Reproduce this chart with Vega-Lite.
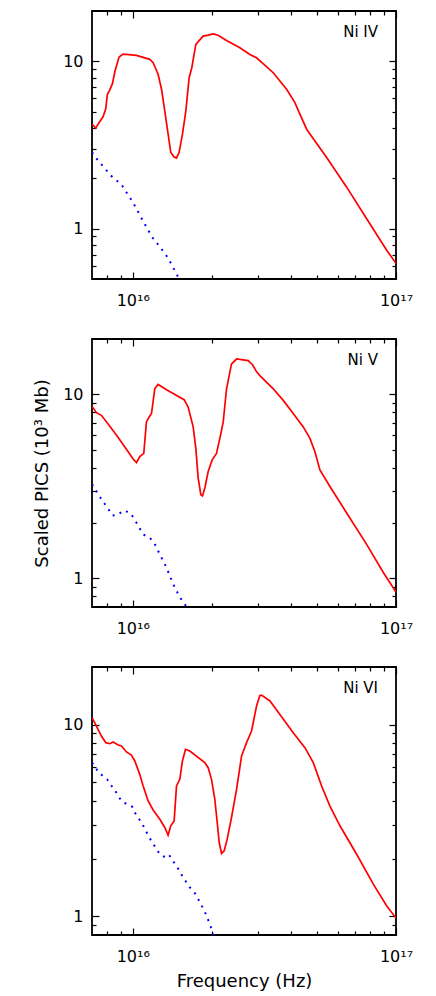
{
  "$schema": "https://vega.github.io/schema/vega-lite/v6.json",
  "background": "white",
  "padding": {"left": 32, "top": 9, "right": 5, "bottom": 5},
  "bounds": "flush",
  "spacing": 60,
  "config": {
    "view": {"stroke": "black", "strokeWidth": 1.8},
    "axis": {"grid": false, "domain": false, "tickColor": "black", "tickWidth": 1.2, "labelColor": "black", "labelFont": "DejaVu Sans", "labelFontSize": 16, "labelFlush": false, "titleFont": "DejaVu Sans", "titleFontSize": 18, "titleFontWeight": "normal", "titleColor": "black"},
    "title": {"font": "DejaVu Sans", "fontSize": 15, "fontWeight": "normal", "color": "black", "anchor": "end", "frame": "group", "offset": -30, "dx": -18}
  },
  "datasets": {
    "iv_solid": [
      {"f": 7.0e15, "v": 4.22}, {"f": 7.23e15, "v": 3.99}, {"f": 7.45e15, "v": 4.31}, {"f": 7.71e15, "v": 4.66}, {"f": 7.89e15, "v": 5.18}, {"f": 8.01e15, "v": 6.36}, {"f": 8.18e15, "v": 6.75}, {"f": 8.37e15, "v": 7.36}, {"f": 8.56e15, "v": 8.76}, {"f": 8.87e15, "v": 10.6}, {"f": 9.19e15, "v": 11.05}, {"f": 1.033e16, "v": 10.85}, {"f": 1.16e16, "v": 10.28}, {"f": 1.195e16, "v": 9.81}, {"f": 1.248e16, "v": 8.37}, {"f": 1.286e16, "v": 6.81}, {"f": 1.323e16, "v": 5.06}, {"f": 1.362e16, "v": 3.68}, {"f": 1.394e16, "v": 2.86}, {"f": 1.432e16, "v": 2.69}, {"f": 1.466e16, "v": 2.64}, {"f": 1.5e16, "v": 2.86}, {"f": 1.545e16, "v": 3.68}, {"f": 1.591e16, "v": 5.06}, {"f": 1.637e16, "v": 7.99}, {"f": 1.676e16, "v": 9.16}, {"f": 1.736e16, "v": 12.62}, {"f": 1.851e16, "v": 14.15}, {"f": 1.933e16, "v": 14.34}, {"f": 2.02e16, "v": 14.6}, {"f": 2.11e16, "v": 14.34}, {"f": 2.271e16, "v": 13.34}, {"f": 2.552e16, "v": 12.05}, {"f": 2.786e16, "v": 11.0}, {"f": 2.953e16, "v": 10.5}, {"f": 3.416e16, "v": 8.55}, {"f": 3.841e16, "v": 6.81}, {"f": 4.13e16, "v": 5.67}, {"f": 4.315e16, "v": 4.84}, {"f": 4.576e16, "v": 3.93}, {"f": 5.452e16, "v": 2.66}, {"f": 6.495e16, "v": 1.77}, {"f": 7.737e16, "v": 1.147}, {"f": 9.218e16, "v": 0.743}, {"f": 1.0e17, "v": 0.62}
    ],
    "iv_dotted": [
      {"f": 7.0e15, "v": 2.86}, {"f": 7.38e15, "v": 2.55}, {"f": 7.71e15, "v": 2.36}, {"f": 8.3e15, "v": 2.06}, {"f": 9.06e15, "v": 1.835}, {"f": 9.32e15, "v": 1.707}, {"f": 9.97e15, "v": 1.453}, {"f": 1.054e16, "v": 1.239}, {"f": 1.117e16, "v": 1.047}, {"f": 1.184e16, "v": 0.891}, {"f": 1.274e16, "v": 0.77}, {"f": 1.362e16, "v": 0.668}, {"f": 1.479e16, "v": 0.522}, {"f": 1.5e16, "v": 0.5}
    ],
    "v_solid": [
      {"f": 7.0e15, "v": 8.61}, {"f": 7.28e15, "v": 7.96}, {"f": 7.6e15, "v": 7.7}, {"f": 8.18e15, "v": 6.72}, {"f": 8.8e15, "v": 5.84}, {"f": 9.46e15, "v": 5.03}, {"f": 1.003e16, "v": 4.46}, {"f": 1.033e16, "v": 4.26}, {"f": 1.063e16, "v": 4.59}, {"f": 1.101e16, "v": 4.78}, {"f": 1.127e16, "v": 7.09}, {"f": 1.154e16, "v": 7.54}, {"f": 1.178e16, "v": 7.87}, {"f": 1.212e16, "v": 10.73}, {"f": 1.248e16, "v": 11.32}, {"f": 1.343e16, "v": 10.6}, {"f": 1.567e16, "v": 9.36}, {"f": 1.623e16, "v": 8.54}, {"f": 1.696e16, "v": 6.66}, {"f": 1.736e16, "v": 5.09}, {"f": 1.772e16, "v": 3.51}, {"f": 1.814e16, "v": 2.85}, {"f": 1.84e16, "v": 2.81}, {"f": 1.878e16, "v": 3.1}, {"f": 1.934e16, "v": 3.81}, {"f": 2.003e16, "v": 4.41}, {"f": 2.08e16, "v": 4.78}, {"f": 2.142e16, "v": 5.77}, {"f": 2.206e16, "v": 7.09}, {"f": 2.271e16, "v": 10.73}, {"f": 2.372e16, "v": 14.64}, {"f": 2.479e16, "v": 15.57}, {"f": 2.745e16, "v": 15.25}, {"f": 2.85e16, "v": 14.5}, {"f": 2.95e16, "v": 13.3}, {"f": 3.04e16, "v": 12.66}, {"f": 3.417e16, "v": 10.73}, {"f": 3.729e16, "v": 9.28}, {"f": 4.07e16, "v": 7.87}, {"f": 4.443e16, "v": 6.66}, {"f": 4.71e16, "v": 5.77}, {"f": 4.92e16, "v": 4.88}, {"f": 5.14e16, "v": 3.89}, {"f": 5.61e16, "v": 3.16}, {"f": 6.494e16, "v": 2.27}, {"f": 7.735e16, "v": 1.532}, {"f": 8.95e16, "v": 1.077}, {"f": 1.0e17, "v": 0.845}
    ],
    "v_dotted": [
      {"f": 7.0e15, "v": 3.25}, {"f": 7.28e15, "v": 2.97}, {"f": 7.6e15, "v": 2.7}, {"f": 8.06e15, "v": 2.39}, {"f": 8.37e15, "v": 2.2}, {"f": 8.8e15, "v": 2.22}, {"f": 9.19e15, "v": 2.34}, {"f": 9.68e15, "v": 2.29}, {"f": 9.97e15, "v": 2.18}, {"f": 1.033e16, "v": 2.01}, {"f": 1.095e16, "v": 1.735}, {"f": 1.16e16, "v": 1.665}, {"f": 1.205e16, "v": 1.563}, {"f": 1.267e16, "v": 1.353}, {"f": 1.343e16, "v": 1.147}, {"f": 1.424e16, "v": 0.932}, {"f": 1.509e16, "v": 0.79}, {"f": 1.576e16, "v": 0.727}, {"f": 1.6e16, "v": 0.7}
    ],
    "vi_solid": [
      {"f": 7.0e15, "v": 10.88}, {"f": 7.28e15, "v": 9.84}, {"f": 7.6e15, "v": 8.73}, {"f": 7.9e15, "v": 8.06}, {"f": 8.18e15, "v": 7.96}, {"f": 8.42e15, "v": 8.12}, {"f": 8.8e15, "v": 7.84}, {"f": 9.06e15, "v": 7.74}, {"f": 9.46e15, "v": 7.21}, {"f": 9.88e15, "v": 6.95}, {"f": 1.018e16, "v": 6.47}, {"f": 1.063e16, "v": 5.51}, {"f": 1.095e16, "v": 4.79}, {"f": 1.144e16, "v": 4.0}, {"f": 1.195e16, "v": 3.59}, {"f": 1.267e16, "v": 3.21}, {"f": 1.323e16, "v": 2.91}, {"f": 1.362e16, "v": 2.65}, {"f": 1.394e16, "v": 2.97}, {"f": 1.436e16, "v": 3.15}, {"f": 1.466e16, "v": 4.79}, {"f": 1.509e16, "v": 5.19}, {"f": 1.544e16, "v": 6.47}, {"f": 1.586e16, "v": 7.44}, {"f": 1.647e16, "v": 7.29}, {"f": 1.878e16, "v": 6.34}, {"f": 1.934e16, "v": 5.97}, {"f": 1.991e16, "v": 5.19}, {"f": 2.05e16, "v": 4.08}, {"f": 2.093e16, "v": 3.09}, {"f": 2.13e16, "v": 2.43}, {"f": 2.174e16, "v": 2.13}, {"f": 2.225e16, "v": 2.2}, {"f": 2.284e16, "v": 2.53}, {"f": 2.372e16, "v": 3.28}, {"f": 2.479e16, "v": 4.6}, {"f": 2.59e16, "v": 6.87}, {"f": 2.706e16, "v": 8.06}, {"f": 2.826e16, "v": 9.27}, {"f": 2.953e16, "v": 12.51}, {"f": 3.04e16, "v": 14.21}, {"f": 3.085e16, "v": 14.27}, {"f": 3.32e16, "v": 13.3}, {"f": 3.623e16, "v": 11.32}, {"f": 4.07e16, "v": 9.08}, {"f": 4.508e16, "v": 7.59}, {"f": 4.85e16, "v": 6.34}, {"f": 5.217e16, "v": 4.79}, {"f": 5.61e16, "v": 3.76}, {"f": 6.125e16, "v": 2.97}, {"f": 7.087e16, "v": 2.11}, {"f": 8.2e16, "v": 1.474}, {"f": 9.21e16, "v": 1.137}, {"f": 1.0e17, "v": 0.98}
    ],
    "vi_dotted": [
      {"f": 7.0e15, "v": 6.34}, {"f": 7.17e15, "v": 6.09}, {"f": 7.38e15, "v": 5.67}, {"f": 7.65e15, "v": 5.45}, {"f": 7.99e15, "v": 5.19}, {"f": 8.22e15, "v": 4.89}, {"f": 8.54e15, "v": 4.57}, {"f": 8.8e15, "v": 4.25}, {"f": 9.11e15, "v": 3.96}, {"f": 9.52e15, "v": 3.85}, {"f": 9.94e15, "v": 3.74}, {"f": 1.018e16, "v": 3.48}, {"f": 1.054e16, "v": 3.24}, {"f": 1.088e16, "v": 3.03}, {"f": 1.15e16, "v": 2.61}, {"f": 1.219e16, "v": 2.29}, {"f": 1.267e16, "v": 2.11}, {"f": 1.312e16, "v": 2.05}, {"f": 1.37e16, "v": 2.11}, {"f": 1.411e16, "v": 1.973}, {"f": 1.466e16, "v": 1.836}, {"f": 1.554e16, "v": 1.596}, {"f": 1.647e16, "v": 1.416}, {"f": 1.721e16, "v": 1.323}, {"f": 1.787e16, "v": 1.207}, {"f": 1.878e16, "v": 1.058}, {"f": 1.963e16, "v": 0.912}, {"f": 2.003e16, "v": 0.836}, {"f": 2.02e16, "v": 0.8}
    ]
  },
  "vconcat": [
    {
      "width": 304, "height": 268,
      "title": {"text": "Ni  IV"},
      "resolve": {"axis": {"x": "independent", "y": "independent"}},
      "layer": [
        {"data": {"name": "iv_dotted"}, "mark": {"type": "line", "color": "#0000ff", "strokeWidth": 2, "strokeDash": [2, 5.5], "clip": true},
         "encoding": {
           "x": {"field": "f", "type": "quantitative", "scale": {"type": "log", "domain": [7e15, 1e17], "nice": false}, "axis": {"orient": "bottom", "values": [8e15, 9e15, 2e16, 3e16, 4e16, 5e16, 6e16, 7e16, 8e16, 9e16], "offset": -4, "tickSize": 4, "labels": false, "title": null}},
           "y": {"field": "v", "type": "quantitative", "scale": {"type": "log", "domain": [0.5, 20], "nice": false}, "axis": {"orient": "left", "values": [0.6, 0.7, 0.8, 0.9, 2, 3, 4, 5, 6, 7, 8, 9], "offset": -4, "tickSize": 4, "labels": false, "title": null}}
         }},
        {"data": {"name": "iv_solid"}, "mark": {"type": "line", "color": "#ff0000", "strokeWidth": 1.7, "clip": true},
         "encoding": {
           "x": {"field": "f", "type": "quantitative", "scale": {"type": "log", "domain": [7e15, 1e17], "nice": false}, "axis": {"orient": "bottom", "values": [1e16, 1e17], "ticks": false, "tickSize": 0, "labelExpr": "datum.value < 5e16 ? '10¹⁶' : '10¹⁷'", "labelBaseline": "alphabetic", "labelPadding": 26, "title": null}},
           "y": {"field": "v", "type": "quantitative", "scale": {"type": "log", "domain": [0.5, 20], "nice": false}, "axis": {"orient": "left", "values": [1, 10], "ticks": false, "tickSize": 0, "labelExpr": "datum.value > 5 ? '10' : '1'", "labelPadding": 9, "title": null}}
         }},
        {"data": {"name": "iv_solid"}, "mark": {"type": "line", "opacity": 0, "clip": true},
         "encoding": {
           "x": {"field": "f", "type": "quantitative", "scale": {"type": "log", "domain": [7e15, 1e17], "nice": false}, "axis": {"orient": "bottom", "values": [1e16, 1e17], "offset": -7, "tickSize": 7, "labels": false, "title": null}},
           "y": {"field": "v", "type": "quantitative", "scale": {"type": "log", "domain": [0.5, 20], "nice": false}, "axis": {"orient": "left", "values": [1, 10], "offset": -7, "tickSize": 7, "labels": false, "title": null}}
         }},
        {"data": {"name": "iv_solid"}, "mark": {"type": "line", "opacity": 0, "clip": true},
         "encoding": {
           "x": {"field": "f", "type": "quantitative", "scale": {"type": "log", "domain": [7e15, 1e17], "nice": false}, "axis": {"orient": "top", "values": [1e16, 1e17], "offset": -7, "tickSize": 7, "labels": false, "title": null}},
           "y": {"field": "v", "type": "quantitative", "scale": {"type": "log", "domain": [0.5, 20], "nice": false}, "axis": {"orient": "right", "values": [1, 10], "offset": -7, "tickSize": 7, "labels": false, "title": null}}
         }},
        {"data": {"name": "iv_solid"}, "mark": {"type": "line", "opacity": 0, "clip": true},
         "encoding": {
           "x": {"field": "f", "type": "quantitative", "scale": {"type": "log", "domain": [7e15, 1e17], "nice": false}, "axis": {"orient": "top", "values": [8e15, 9e15, 2e16, 3e16, 4e16, 5e16, 6e16, 7e16, 8e16, 9e16], "offset": -4, "tickSize": 4, "labels": false, "title": null}},
           "y": {"field": "v", "type": "quantitative", "scale": {"type": "log", "domain": [0.5, 20], "nice": false}, "axis": {"orient": "right", "values": [0.6, 0.7, 0.8, 0.9, 2, 3, 4, 5, 6, 7, 8, 9], "offset": -4, "tickSize": 4, "labels": false, "title": null}}
         }}
      ]
    },
    {
      "width": 304, "height": 268,
      "title": {"text": "Ni  V"},
      "resolve": {"axis": {"x": "independent", "y": "independent"}},
      "layer": [
        {"data": {"name": "v_dotted"}, "mark": {"type": "line", "color": "#0000ff", "strokeWidth": 2, "strokeDash": [2, 5.5], "clip": true},
         "encoding": {
           "x": {"field": "f", "type": "quantitative", "scale": {"type": "log", "domain": [7e15, 1e17], "nice": false}, "axis": {"orient": "bottom", "values": [8e15, 9e15, 2e16, 3e16, 4e16, 5e16, 6e16, 7e16, 8e16, 9e16], "offset": -4, "tickSize": 4, "labels": false, "title": null}},
           "y": {"field": "v", "type": "quantitative", "scale": {"type": "log", "domain": [0.7, 20], "nice": false}, "axis": {"orient": "left", "values": [0.8, 0.9, 2, 3, 4, 5, 6, 7, 8, 9], "offset": -4, "tickSize": 4, "labels": false, "title": null}}
         }},
        {"data": {"name": "v_solid"}, "mark": {"type": "line", "color": "#ff0000", "strokeWidth": 1.7, "clip": true},
         "encoding": {
           "x": {"field": "f", "type": "quantitative", "scale": {"type": "log", "domain": [7e15, 1e17], "nice": false}, "axis": {"orient": "bottom", "values": [1e16, 1e17], "ticks": false, "tickSize": 0, "labelExpr": "datum.value < 5e16 ? '10¹⁶' : '10¹⁷'", "labelBaseline": "alphabetic", "labelPadding": 26, "title": null}},
           "y": {"field": "v", "type": "quantitative", "scale": {"type": "log", "domain": [0.7, 20], "nice": false}, "axis": {"orient": "left", "values": [1, 10], "ticks": false, "tickSize": 0, "labelExpr": "datum.value > 5 ? '10' : '1'", "labelPadding": 9, "title": "Scaled PICS (10³ Mb)", "titlePadding": 11}}
         }},
        {"data": {"name": "v_solid"}, "mark": {"type": "line", "opacity": 0, "clip": true},
         "encoding": {
           "x": {"field": "f", "type": "quantitative", "scale": {"type": "log", "domain": [7e15, 1e17], "nice": false}, "axis": {"orient": "bottom", "values": [1e16, 1e17], "offset": -7, "tickSize": 7, "labels": false, "title": null}},
           "y": {"field": "v", "type": "quantitative", "scale": {"type": "log", "domain": [0.7, 20], "nice": false}, "axis": {"orient": "left", "values": [1, 10], "offset": -7, "tickSize": 7, "labels": false, "title": null}}
         }},
        {"data": {"name": "v_solid"}, "mark": {"type": "line", "opacity": 0, "clip": true},
         "encoding": {
           "x": {"field": "f", "type": "quantitative", "scale": {"type": "log", "domain": [7e15, 1e17], "nice": false}, "axis": {"orient": "top", "values": [1e16, 1e17], "offset": -7, "tickSize": 7, "labels": false, "title": null}},
           "y": {"field": "v", "type": "quantitative", "scale": {"type": "log", "domain": [0.7, 20], "nice": false}, "axis": {"orient": "right", "values": [1, 10], "offset": -7, "tickSize": 7, "labels": false, "title": null}}
         }},
        {"data": {"name": "v_solid"}, "mark": {"type": "line", "opacity": 0, "clip": true},
         "encoding": {
           "x": {"field": "f", "type": "quantitative", "scale": {"type": "log", "domain": [7e15, 1e17], "nice": false}, "axis": {"orient": "top", "values": [8e15, 9e15, 2e16, 3e16, 4e16, 5e16, 6e16, 7e16, 8e16, 9e16], "offset": -4, "tickSize": 4, "labels": false, "title": null}},
           "y": {"field": "v", "type": "quantitative", "scale": {"type": "log", "domain": [0.7, 20], "nice": false}, "axis": {"orient": "right", "values": [0.8, 0.9, 2, 3, 4, 5, 6, 7, 8, 9], "offset": -4, "tickSize": 4, "labels": false, "title": null}}
         }}
      ]
    },
    {
      "width": 304, "height": 268,
      "title": {"text": "Ni  VI"},
      "resolve": {"axis": {"x": "independent", "y": "independent"}},
      "layer": [
        {"data": {"name": "vi_dotted"}, "mark": {"type": "line", "color": "#0000ff", "strokeWidth": 2, "strokeDash": [2, 5.5], "clip": true},
         "encoding": {
           "x": {"field": "f", "type": "quantitative", "scale": {"type": "log", "domain": [7e15, 1e17], "nice": false}, "axis": {"orient": "bottom", "values": [8e15, 9e15, 2e16, 3e16, 4e16, 5e16, 6e16, 7e16, 8e16, 9e16], "offset": -4, "tickSize": 4, "labels": false, "title": null}},
           "y": {"field": "v", "type": "quantitative", "scale": {"type": "log", "domain": [0.8, 20], "nice": false}, "axis": {"orient": "left", "values": [0.9, 2, 3, 4, 5, 6, 7, 8, 9], "offset": -4, "tickSize": 4, "labels": false, "title": null}}
         }},
        {"data": {"name": "vi_solid"}, "mark": {"type": "line", "color": "#ff0000", "strokeWidth": 1.7, "clip": true},
         "encoding": {
           "x": {"field": "f", "type": "quantitative", "scale": {"type": "log", "domain": [7e15, 1e17], "nice": false}, "axis": {"orient": "bottom", "values": [1e16, 1e17], "ticks": false, "tickSize": 0, "labelExpr": "datum.value < 5e16 ? '10¹⁶' : '10¹⁷'", "labelBaseline": "alphabetic", "labelPadding": 26, "title": "Frequency (Hz)", "titlePadding": 8}},
           "y": {"field": "v", "type": "quantitative", "scale": {"type": "log", "domain": [0.8, 20], "nice": false}, "axis": {"orient": "left", "values": [1, 10], "ticks": false, "tickSize": 0, "labelExpr": "datum.value > 5 ? '10' : '1'", "labelPadding": 9, "title": null}}
         }},
        {"data": {"name": "vi_solid"}, "mark": {"type": "line", "opacity": 0, "clip": true},
         "encoding": {
           "x": {"field": "f", "type": "quantitative", "scale": {"type": "log", "domain": [7e15, 1e17], "nice": false}, "axis": {"orient": "bottom", "values": [1e16, 1e17], "offset": -7, "tickSize": 7, "labels": false, "title": null}},
           "y": {"field": "v", "type": "quantitative", "scale": {"type": "log", "domain": [0.8, 20], "nice": false}, "axis": {"orient": "left", "values": [1, 10], "offset": -7, "tickSize": 7, "labels": false, "title": null}}
         }},
        {"data": {"name": "vi_solid"}, "mark": {"type": "line", "opacity": 0, "clip": true},
         "encoding": {
           "x": {"field": "f", "type": "quantitative", "scale": {"type": "log", "domain": [7e15, 1e17], "nice": false}, "axis": {"orient": "top", "values": [1e16, 1e17], "offset": -7, "tickSize": 7, "labels": false, "title": null}},
           "y": {"field": "v", "type": "quantitative", "scale": {"type": "log", "domain": [0.8, 20], "nice": false}, "axis": {"orient": "right", "values": [1, 10], "offset": -7, "tickSize": 7, "labels": false, "title": null}}
         }},
        {"data": {"name": "vi_solid"}, "mark": {"type": "line", "opacity": 0, "clip": true},
         "encoding": {
           "x": {"field": "f", "type": "quantitative", "scale": {"type": "log", "domain": [7e15, 1e17], "nice": false}, "axis": {"orient": "top", "values": [8e15, 9e15, 2e16, 3e16, 4e16, 5e16, 6e16, 7e16, 8e16, 9e16], "offset": -4, "tickSize": 4, "labels": false, "title": null}},
           "y": {"field": "v", "type": "quantitative", "scale": {"type": "log", "domain": [0.8, 20], "nice": false}, "axis": {"orient": "right", "values": [0.9, 2, 3, 4, 5, 6, 7, 8, 9], "offset": -4, "tickSize": 4, "labels": false, "title": null}}
         }}
      ]
    }
  ]
}
